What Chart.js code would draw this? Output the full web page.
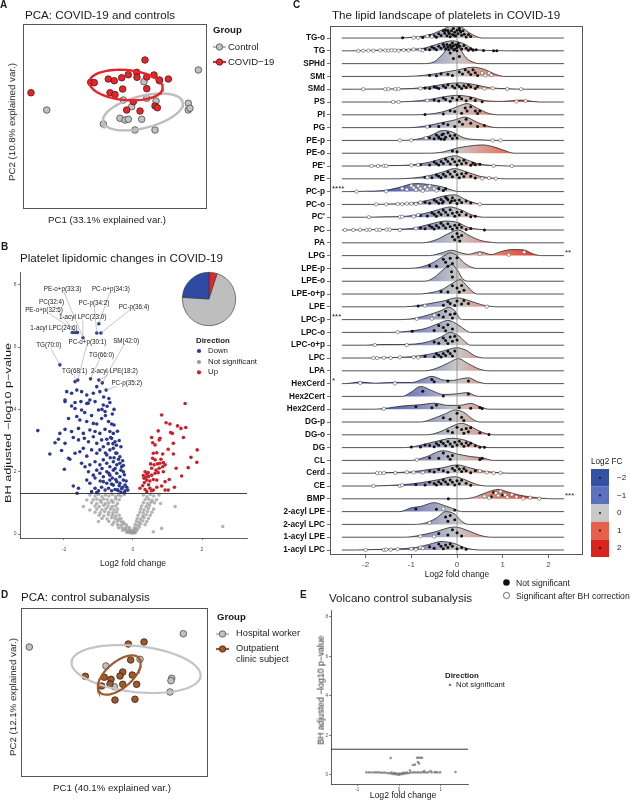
<!DOCTYPE html>
<html><head><meta charset="utf-8">
<script src="https://cdn.jsdelivr.net/npm/chart.js@4.4.1/dist/chart.umd.min.js"></script>
<style>
html,body{margin:0;padding:0;background:#fff}
body{width:631px;height:800px;position:relative;overflow:hidden;font-family:"Liberation Sans",Arial,Helvetica,sans-serif}
canvas{position:absolute}
.t{position:absolute;white-space:nowrap;line-height:1;color:#1a1a1a}
</style></head><body>
<script>
// ================= DATA =================
// Panel A: PCA COVID-19 vs controls (PC1, PC2 scores)
const pcaControlA = [[9.06,5.03],[-7.42,0.70],[3.15,3.76],[4.82,3.87],[0.91,1.78],[3.45,1.97],[4.46,1.68],[7.97,1.43],[7.97,0.70],[8.15,0.89],[0.54,-0.19],[1.09,-0.38],[1.45,-0.30],[2.9,-0.30],[-1.27,-0.81],[2.17,-1.46],[4.35,-1.46],[1.81,1.06]];
const pcaCovidA = [[-9.13,2.57],[3.26,6.11],[-2.64,3.70],[-2.25,3.66],[-0.73,4.05],[-0.08,3.87],[0.73,4.19],[1.45,4.52],[2.36,4.77],[3.45,4.27],[4.24,4.49],[4.82,3.95],[5.80,4.05],[-0.54,2.57],[0,2.36],[0.83,2.97],[2.39,4.24],[3.45,3.01],[1.99,1.60],[1.27,0.70],[2.72,0.59],[4.35,1.14],[4.60,0.95]];
// ellipses: [centre x, centre y, semi-axis a, semi-axis b, angle deg]
const ellipseControlA = [3.04,0.49,4.46,1.73,14];
const ellipseCovidA = [1.2,3.4,4.0,1.62,-5];
const groupsA = ['Control','COVID-19'];

// Panel B: volcano plot [log2FC, -log10 adj p]
const volcanoDown = [[-0.99,6.75],[-1.05,6.45],[-0.93,6.45],[-1.76,6.47],[-1.68,6.47],[-1.61,6.47],[-1.45,6.3],[-2.12,5.43],[-1.6,4.94],[-1.23,4.98],[-0.99,4.94],[-0.89,4.85],[-0.78,4.62],[-1.68,4.89],[-1.92,4.57],[-1.78,4.52],[-1.63,4.62],[-1.49,4.57],[-1.34,4.46],[-1.15,4.52],[-0.96,4.57],[-1.05,4.73],[-0.85,4.4],[-1.97,4.30],[-1.78,4.11],[-1.25,4.3],[-0.7,4.35],
[-1.97,4.25],[-1.68,4.22],[-1.51,4.25],[-1.34,4.19],[-1.10,4.25],[-0.86,4.14],[-0.67,4.22],[-1.68,4.03],[-1.49,3.98],[-1.0,3.98],[-0.81,3.93],[-1.87,3.71],[-1.63,3.77],[-1.54,3.66],[-1.34,3.61],[-1.15,3.55],[-1.05,3.53],[-0.91,3.71],[-0.71,3.61],[-0.62,3.53],[-2.76,3.32],[-2.12,3.23],[-1.97,3.36],[-1.78,3.29],[-1.58,3.39],[-1.44,3.23],[-1.25,3.34],[-1.10,3.29],[-0.96,3.23],[-0.81,3.36],[-0.67,3.29],[-0.57,3.23],
[-2.26,2.93],[-2.16,3.04],[-1.97,2.91],[-1.73,3.10],[-1.58,3.02],[-1.41,3.07],[-1.29,2.96],[-1.15,3.12],[-1.05,2.91],[-0.91,3.02],[-0.76,3.04],[-0.62,3.07],[-0.52,2.96],[-2.41,2.57],[-2.07,2.68],[-1.87,2.43],[-1.83,2.40],[-1.68,2.59],[-1.54,2.64],[-1.44,2.75],[-1.34,2.50],[-1.20,2.70],[-1.05,2.59],[-0.96,2.70],[-0.86,2.80],[-0.76,2.54],[-0.67,2.70],[-0.57,2.75],[-0.47,2.59],[-0.38,2.48],[-1.99,2.08],[-1.49,2.27],[-1.39,2.16],[-1.25,2.22],[-1.10,2.32],[-0.96,2.22],[-0.86,2.38],[-0.76,2.27],[-0.67,2.16],[-0.57,2.32],[-0.47,2.22],[-0.38,2.27],[-0.33,2.16],
[-1.29,2.0],[-1.15,1.89],[-1.05,2.05],[-0.96,1.95],[-0.86,1.84],[-0.76,2.0],[-0.67,1.89],[-0.57,2.05],[-0.47,1.95],[-0.38,1.84],[-0.28,2.0],[-0.86,1.68],[-0.76,1.63],[-0.67,1.73],[-0.57,1.57],[-0.47,1.68],[-0.38,1.63],[-0.28,1.73],[-0.23,1.57],[-1.73,1.54],[-1.58,1.47],[-1.34,1.73],[-1.25,1.63],[-1.10,1.47],[-1.0,1.39],[-0.91,1.50],[-0.81,1.41],[-0.71,1.47],[-0.62,1.39],[-0.52,1.43],[-0.43,1.39],[-0.33,1.46],[-0.23,1.39],[-0.15,1.41],[-1.62,1.31],[-1.20,1.36],[-1.05,1.33],
[-0.55,3.5],[-0.45,3.3],[-0.4,3.0],[-0.35,2.8],[-0.5,2.6],[-0.42,2.4],[-0.3,2.35],[-0.52,2.1],[-0.35,2.05],[-0.25,1.9],[-0.6,1.8],[-0.5,1.75],[-0.4,1.55],[-0.3,1.5],[-0.62,1.6],[-0.7,1.95],[-0.55,2.45],[-0.48,2.85],[-0.65,3.1],[-0.72,2.9],[-0.8,2.6],[-0.9,2.1],[-0.95,1.7],[-1.1,1.8],[-0.8,3.8],[-0.9,4.0],[-0.75,4.1],[-0.6,3.85],[-0.55,4.0],[-1.2,3.8],[-1.4,3.9],[-1.3,4.2],[-0.45,1.42],[-0.35,1.35],[-0.25,1.33],[-0.18,1.5],[-0.2,1.7],[-0.28,2.2],[-0.66,2.45],[-0.58,2.9]];
const volcanoUp = [[1.51,4.19],[0.83,3.82],[0.96,3.57],[1.07,3.53],[1.29,3.47],[1.39,3.39],[1.53,3.42],[1.09,3.26],[1.14,3.23],[0.73,3.31],[0.54,3.10],[0.78,3.07],[0.76,3.02],[1.46,3.10],[0.57,2.93],[0.64,2.86],[1.17,2.91],[1.86,2.70],[1.02,2.72],[0.59,2.59],[0.69,2.61],[0.86,2.57],[1.17,2.57],[1.68,2.46],[0.57,2.43],[0.64,2.38],[0.81,2.40],[1.85,2.30],[1.60,2.13],[0.51,2.25],[0.61,2.22],[0.71,2.25],[0.78,2.27],[0.88,2.29],[0.54,2.11],[0.67,2.05],[0.76,2.11],[0.86,2.16],[0.93,2.22],[1.25,2.11],[0.35,2.0],[0.40,1.93],[0.44,1.97],[0.54,1.89],[0.64,1.95],[0.73,1.97],[0.88,2.0],[1.41,1.86],[0.32,1.79],[0.40,1.73],[0.49,1.70],[0.59,1.75],[0.69,1.73],[0.93,1.68],[1.05,1.75],[0.20,1.47],[0.35,1.43],[0.49,1.47],[0.59,1.41],[0.69,1.50],[0.83,1.54],[0.93,1.41],[1.02,1.41],[1.20,1.50],[0.40,1.36],[0.54,1.39],[0.30,1.88],[0.37,1.82],[0.45,1.85],[0.33,1.65],[0.28,1.55],[0.45,1.58]];
const volcanoNS = [[-1.25,1.25],[-1.1,1.22],[-1.0,1.27],[-0.9,1.2],[-0.8,1.25],[-0.7,1.22],[-0.6,1.27],[-0.5,1.2],[-0.42,1.25],[-0.35,1.22],[-0.25,1.27],[0.3,1.25],[0.4,1.2],[0.5,1.27],[0.6,1.22],[0.75,1.25],
[-1.34,1.09],[-1.15,1.1],[-1.05,1.12],[-0.95,1.08],[-0.85,1.12],[-0.75,1.1],[-0.62,1.08],[-0.5,1.12],[-0.4,1.1],[0.35,1.1],[0.45,1.12],[0.55,1.08],[0.68,1.1],
[-1.2,1.0],[-1.05,0.98],[-0.92,1.02],[-0.8,0.98],[-0.7,1.0],[-0.58,1.02],[-0.45,0.98],[0.3,1.0],[0.42,0.98],[0.52,1.02],[0.62,1.0],[0.8,0.98],
[-1.44,0.88],[-1.1,0.9],[-0.98,0.88],[-0.85,0.92],[-0.72,0.9],[-0.6,0.88],[-0.5,0.9],[0.25,0.9],[0.38,0.88],[0.48,0.92],[1.22,0.88],
[-1.25,0.77],[-1.05,0.8],[-0.9,0.78],[-0.78,0.82],[-0.65,0.8],[-0.55,0.78],[-0.45,0.8],[0.22,0.8],[0.32,0.78],[0.45,0.82],[0.6,0.8],
[-1.1,0.7],[-0.95,0.68],[-0.82,0.72],[-0.7,0.7],[-0.58,0.68],[-0.48,0.7],[0.2,0.7],[0.3,0.68],[0.42,0.72],[0.55,0.7],
[-0.98,0.6],[-0.85,0.58],[-0.72,0.62],[-0.6,0.6],[-0.5,0.58],[-0.4,0.6],[0.15,0.6],[0.28,0.58],[0.38,0.62],[0.5,0.6],
[-0.9,0.5],[-0.75,0.48],[-0.62,0.52],[-0.52,0.5],[-0.42,0.48],[-0.35,0.5],[0.12,0.5],[0.22,0.48],[0.32,0.52],[0.45,0.5],
[-1.0,0.4],[-0.7,0.4],[-0.55,0.38],[-0.45,0.42],[-0.35,0.4],[-0.28,0.38],[0.1,0.4],[0.18,0.38],[0.28,0.42],[0.4,0.4],
[-0.6,0.3],[-0.45,0.3],[-0.35,0.28],[-0.28,0.32],[-0.2,0.3],[0.06,0.3],[0.14,0.28],[0.22,0.32],[0.35,0.3],
[-0.42,0.2],[-0.32,0.2],[-0.24,0.18],[-0.17,0.22],[-0.1,0.2],[0.04,0.2],[0.1,0.18],[0.18,0.22],[0.83,0.18],
[-0.3,0.12],[-0.22,0.12],[-0.15,0.1],[-0.1,0.13],[-0.05,0.11],[0,0.12],[0.05,0.1],[0.12,0.12],
[-0.18,0.05],[-0.12,0.05],[-0.07,0.04],[-0.03,0.05],[0,0.03],[0.03,0.05],[0.07,0.04],[0.59,0.07],[2.6,0.24]];
const bhThreshold = -Math.log10(0.05);
const labelledLipids = ['PE-o+p(33:3)','PC-o+p(34:3)','PC(32:4)','PC-p(34:2)','PC-p(36:4)','PE-o+p(32:5)','1-acyl LPC(23:0)','1-acyl LPC(24:6)','TG(70:0)','PC-o+p(30:1)','SM(42:0)','TG(66:0)','TG(68:1)','2-acyl LPE(18:2)','PC-p(35:2)'];
const labelledFC = [-1.45,-0.99,-1.68,-1.05,-0.93,-1.61,-1.45,-1.76,-2.12,-1.6,-0.89,-1.23,-1.68,-0.99,-0.78];
const labelledP  = [6.3,6.75,6.47,6.45,6.45,6.47,6.3,6.47,5.43,4.94,4.85,4.98,4.89,4.94,4.62];
// label anchor positions (layout, data units)
const labelAnchorX = [-2.04,-0.64,-2.36,-1.13,0.03,-2.58,-1.46,-2.29,-2.44,-1.32,-0.20,-0.91,-1.69,-0.54,-0.18];
const labelAnchorY = [7.87,7.87,7.45,7.42,7.30,7.19,6.96,6.60,6.07,6.17,6.20,5.75,5.23,5.23,4.86];
const directionLabels = ['Down','Not significant','Up'];
const pieLabels = ['Up','Not significant','Down'];
const pieCounts = [5,71,24];

// Panel C: ridgelines, profiles as [log2FC, density height in row units]
const lipidClasses = ['TG-o','TG','SPHd','SMt','SMd','PS','PI','PG','PE-p','PE-o',"PE'",'PE','PC-p','PC-o',"PC'",'PC','PA','LPG','LPE-p','LPE-o','LPE-o+p','LPE','LPC-p','LPC-o','LPC-o+p','LPC','LPA','HexCerd','Hex2Cert','Hex2Cerd','DG-p','DG-o','DG','CL','Cerd','CE','BMP','2-acyl LPE','2-acyl LPC','1-acyl LPE','1-acyl LPC'];
const ridgeProfiles = [
[[-1.3,0],[-0.9,0.08],[-0.6,0.25],[-0.35,0.6],[-0.1,0.96],[0.1,0.85],[0.25,0.45],[0.45,0.08],[0.55,0]],
[[-2.3,0],[-2.0,0.03],[-1.5,0.06],[-1.0,0.12],[-0.7,0.22],[-0.45,0.5],[-0.1,0.78],[0.15,0.55],[0.35,0.15],[0.55,0.05],[0.95,0.01],[1.1,0]],
[[-0.75,0],[-0.5,0.15],[-0.3,0.8],[-0.12,1.56],[0.05,1.2],[0.2,0.45],[0.4,0.05],[0.5,0]],
[[-1.1,0],[-0.7,0.1],[-0.4,0.25],[0,0.5],[0.35,0.72],[0.6,0.55],[0.85,0.15],[1.05,0]],
[[-2.2,0],[-1.5,0.02],[-1.0,0.05],[-0.6,0.2],[-0.3,0.38],[0.05,0.5],[0.4,0.35],[0.7,0.12],[1.1,0.04],[1.5,0]],
[[-1.5,0],[-1.0,0.05],[-0.6,0.2],[-0.3,0.4],[0,0.52],[0.3,0.4],[0.6,0.12],[1.0,0.05],[1.4,0.15],[1.8,0]],
[[-0.9,0],[-0.5,0.1],[-0.2,0.35],[0.05,0.7],[0.22,0.88],[0.45,0.5],[0.7,0.1],[0.9,0]],
[[-1.05,0],[-0.7,0.12],[-0.35,0.38],[-0.05,0.6],[0.17,0.83],[0.45,0.4],[0.75,0.05],[0.9,0]],
[[-1.3,0],[-0.9,0.08],[-0.6,0.35],[-0.3,0.78],[-0.1,0.65],[0.15,0.2],[0.5,0.05],[1.0,0]],
[[-0.65,0],[-0.3,0.1],[0,0.4],[0.25,0.55],[0.55,0.65],[0.8,0.5],[1.05,0.2],[1.25,0]],
[[-2.0,0],[-1.5,0.03],[-1.0,0.08],[-0.6,0.3],[-0.3,0.6],[-0.05,0.8],[0.2,0.5],[0.5,0.15],[0.9,0.03],[1.3,0]],
[[-1.4,0],[-1.0,0.05],[-0.6,0.25],[-0.3,0.55],[-0.05,0.8],[0.2,0.55],[0.5,0.2],[0.8,0.05],[1.1,0]],
[[-2.4,0],[-2.0,0.03],[-1.6,0.08],[-1.3,0.3],[-0.9,0.63],[-0.6,0.55],[-0.3,0.35],[-0.05,0.05],[0.1,0]],
[[-1.9,0],[-1.4,0.04],[-1.0,0.1],[-0.6,0.35],[-0.3,0.65],[-0.05,0.75],[0.2,0.35],[0.45,0.05],[0.55,0]],
[[-2.0,0],[-1.6,0.03],[-1.1,0.08],[-0.7,0.3],[-0.4,0.6],[-0.15,0.8],[0.1,0.55],[0.35,0.15],[0.6,0]],
[[-2.5,0],[-2.0,0.02],[-1.5,0.05],[-1.0,0.12],[-0.6,0.45],[-0.25,0.7],[0,0.6],[0.25,0.2],[0.5,0.05],[0.7,0]],
[[-0.75,0],[-0.45,0.25],[-0.2,0.7],[0.03,1.0],[0.25,0.6],[0.5,0.2],[0.8,0.02],[0.9,0]],
[[-0.6,0],[-0.35,0.2],[-0.12,0.42],[0.1,0.2],[0.25,0.1],[0.5,0.3],[0.75,0.08],[0.95,0.3],[1.2,0.47],[1.45,0.45],[1.65,0.15],[1.85,0]],
[[-1.1,0],[-0.8,0.1],[-0.5,0.5],[-0.3,0.95],[-0.15,1.22],[0,1.0],[0.15,0.45],[0.35,0.05],[0.45,0]],
[[-0.7,0],[-0.5,0.3],[-0.3,0.9],[-0.12,1.3],[0.02,0.8],[0.12,0.2],[0.25,0]],
[[-0.85,0],[-0.55,0.12],[-0.3,0.4],[-0.05,0.95],[0.07,1.12],[0.2,0.7],[0.35,0.15],[0.45,0]],
[[-1.15,0],[-0.85,0.1],[-0.6,0.25],[-0.3,0.45],[0,0.7],[0.25,0.5],[0.55,0.15],[0.9,0]],
[[-1.25,0],[-0.9,0.12],[-0.6,0.4],[-0.35,0.7],[-0.19,0.96],[-0.05,0.7],[0.05,0.15],[0.12,0]],
[[-1.45,0],[-1.1,0.08],[-0.7,0.3],[-0.4,0.7],[-0.2,0.94],[0,0.65],[0.2,0.15],[0.3,0]],
[[-2.0,0],[-1.7,0.05],[-1.3,0.05],[-0.9,0.1],[-0.6,0.3],[-0.35,0.65],[-0.15,1.0],[0.05,0.7],[0.2,0.2],[0.3,0]],
[[-2.0,0],[-1.5,0.03],[-1.0,0.1],[-0.6,0.3],[-0.3,0.55],[0,0.8],[0.2,0.6],[0.4,0.15],[0.6,0]],
[[-0.7,0],[-0.45,0.2],[-0.2,0.6],[0.03,0.95],[0.25,0.55],[0.5,0.12],[0.7,0]],
[[-2.45,0],[-2.12,0.12],[-1.8,0.03],[-1.36,0.1],[-1.0,0.08],[-0.75,0.35],[-0.55,0.57],[-0.3,0.28],[-0.1,0.25],[0.1,0.38],[0.25,0.45],[0.45,0.15],[0.65,0]],
[[-1.2,0],[-1.0,0.35],[-0.8,0.78],[-0.55,0.45],[-0.3,0.15],[0,0.2],[0.22,0.3],[0.4,0.05],[0.5,0]],
[[-1.8,0],[-1.5,0.1],[-1.2,0.25],[-0.8,0.35],[-0.5,0.47],[-0.2,0.3],[0.05,0.3],[0.3,0.45],[0.5,0.2],[0.7,0]],
[[-0.8,0],[-0.5,0.3],[-0.25,0.65],[-0.05,0.94],[0.15,0.75],[0.35,0.2],[0.5,0]],
[[-0.65,0],[-0.4,0.2],[-0.15,0.6],[0.1,0.9],[0.3,0.65],[0.55,0.2],[0.8,0]],
[[-1.15,0],[-0.85,0.15],[-0.5,0.45],[-0.1,0.73],[0.2,0.55],[0.5,0.1],[0.7,0]],
[[-1.0,0],[-0.7,0.25],[-0.3,0.76],[0,0.5],[0.3,0.3],[0.55,0.2],[0.8,0]],
[[-1.9,0],[-1.5,0.05],[-1.0,0.1],[-0.6,0.3],[-0.35,0.4],[0,0.65],[0.3,0.4],[0.6,0.15],[1.0,0.02],[1.1,0]],
[[-1.9,0],[-1.5,0.04],[-1.2,0.1],[-0.8,0.25],[-0.4,0.5],[-0.05,0.73],[0.2,0.45],[0.45,0.1],[0.65,0]],
[[0.15,0],[0.4,0.15],[0.65,0.5],[0.9,0.73],[1.1,0.55],[1.35,0.3],[1.6,0.15],[1.85,0.05],[2.1,0]],
[[-1.25,0],[-1.0,0.3],[-0.8,0.4],[-0.5,0.7],[-0.3,0.5],[-0.1,0.25],[0.05,0.03],[0.1,0]],
[[-0.95,0],[-0.7,0.1],[-0.45,0.5],[-0.25,1.0],[-0.05,0.8],[0.1,0.25],[0.25,0]],
[[-1.15,0],[-0.85,0.12],[-0.5,0.4],[-0.05,0.8],[0.25,0.5],[0.5,0.15],[0.75,0]],
[[-2.2,0],[-1.8,0.04],[-1.3,0.08],[-0.9,0.2],[-0.6,0.45],[-0.35,0.66],[-0.1,0.55],[0.2,0.15],[0.5,0]]];
// individual lipids (log2FC) per class: not significant / significant after BH
const ridgeNotSig = [
[-1.19,-0.75,-0.6,-0.5,-0.45,-0.4,-0.35,-0.3,-0.27,-0.22,-0.2,-0.17,-0.15,-0.12,-0.1,-0.08,-0.05,-0.03,0,0.02,0.05,0.08,0.1,0.13,0.16,0.2,0.25,0.3,-0.25,-0.18,-0.06,0.06],
[-0.7,-0.6,-0.55,-0.5,-0.45,-0.4,-0.35,-0.3,-0.28,-0.25,-0.22,-0.2,-0.18,-0.15,-0.12,-0.1,-0.08,-0.05,-0.03,0,0.03,0.06,0.1,0.15,0.2,0.25,0.3,0.35,0.42,0.58,0.8,0.87,-0.13,-0.07,0.01],
[-0.15,-0.08,0,0.05],
[-0.6,-0.45,-0.35,-0.2,-0.1,0.05,0.12,0.18,0.25,0.3,0.35,0.4,0.45],
[-0.7,-0.6,-0.5,-0.45,-0.4,-0.3,-0.25,-0.2,-0.1,-0.05,0,0.05,0.1,0.15,0.2,0.25,0.3,0.4,0.45],
[-0.5,-0.4,-0.3,-0.25,-0.15,-0.1,0,0.05,0.1,0.2,0.3,0.4,0.55],
[-0.7,-0.3,-0.15,-0.05,0.1,0.18,0.22,0.3,0.4,0.45,0.5],
[-0.6,-0.4,-0.3,-0.2,-0.05,0.05,0.12,0.2,0.3,0.45,0.6],
[-0.6,-0.5,-0.45,-0.4,-0.35,-0.3,-0.25,-0.2,-0.15,-0.1,-0.05,0,-0.28,-0.33,-0.4],
[-0.1,0.0],
[-0.8,-0.6,-0.5,-0.45,-0.4,-0.35,-0.3,-0.25,-0.2,-0.15,-0.1,-0.05,0,0.05,0.1,0.15,0.2,0.3,0.35,0.4,0.5],
[-0.7,-0.55,-0.45,-0.4,-0.35,-0.3,-0.25,-0.2,-0.15,-0.1,-0.05,0,0.05,0.1,0.15,0.2,0.3,0.4],
[-0.4,-0.3,-0.25],
[-0.7,-0.6,-0.5,-0.45,-0.4,-0.35,-0.3,-0.25,-0.2,-0.15,-0.1,-0.05,0,0.05,0.1,0.2,0.3,-0.32,-0.22,-0.12],
[-0.8,-0.65,-0.55,-0.5,-0.45,-0.4,-0.35,-0.3,-0.25,-0.2,-0.15,-0.1,-0.05,0,0.05,0.1,0.2,0.3,0.4],
[-0.8,-0.7,-0.6,-0.55,-0.5,-0.45,-0.4,-0.35,-0.3,-0.25,-0.2,-0.15,-0.1,-0.05,0,0.05,0.1,0.2,0.3,0.6],
[-0.1,-0.05,0,0.03,0.06,0.1],
[],
[-0.6,-0.45,-0.3,-0.25,-0.2,-0.15,-0.1,0.0],
[-0.12,-0.1],
[-0.35,-0.2,-0.1,0,0.05,0.1,0.15],
[-0.85,-0.3,-0.2,-0.15,-0.05,0,0.1,0.15,0.25],
[-0.4,-0.3,-0.25,-0.15,-0.1,-0.05],
[-0.98,-0.5,-0.4,-0.3,-0.25,-0.2,-0.1],
[-0.5,-0.4,-0.3,-0.25,-0.2,-0.15,-0.1,-0.05,0],
[-0.7,-0.5,-0.45,-0.4,-0.35,-0.3,-0.25,-0.2,-0.15,-0.1,-0.05],
[],
[-0.55,-0.5,-0.2,0.25],
[-0.75,-0.3,0.25],
[-0.9,-0.55,-0.45,0.05,0.3,0.5,0.55],
[-0.3,-0.15,0,0.1,0.15],
[-0.2,-0.1,0,0.1,0.15,0.2,0.25,0.3,0.5,0.7],
[-1.0,-0.8,-0.7,-0.6,-0.5,-0.45,-0.4,-0.35,-0.3,-0.25,-0.2,-0.15,-0.1,-0.05,0,0.05,0.1,0.15,0.2,0.25,0.3,0.4,0.5,0.6],
[-0.6,-0.4,-0.3,-0.2,-0.15,-0.1,0.5,0.55],
[-0.6,-0.5,-0.4,-0.3,-0.2,-0.1,-0.05,0,0.05,0.1,0.15,0.2,0.3,0.4],
[-0.9,-0.7,-0.6,-0.5,-0.45,-0.4,-0.35,-0.3,-0.25,-0.2,-0.15,-0.1,-0.05,0,0.05,0.1,0.2,0.3],
[-0.19,0.75,0.8,1.0],
[-0.9,-0.45,-0.05],
[-0.25,-0.2,-0.15,-0.05],
[-0.4,-0.2,-0.1,0,0.1],
[-0.6,-0.5,-0.4,-0.35,-0.3,-0.25,-0.2,-0.15,-0.1,0,0.1,0.2]];
const ridgeSig = [
[-0.95,-0.85,-0.65,-0.55],
[-2.16,-2.05,-1.94,-1.83,-1.68,-1.57,-1.5,-1.43,-1.36,-1.28,-1.17,-1.06,-0.95,-0.81,-0.75],
[],[0.55,0.62,0.7,0.75],
[-2.05,-1.57,-1.5,-1.35,-1.28,-0.8,0.6,0.78,1.1,1.4],
[-1.4,-1.28,-0.65,1.3,1.5],[],[-0.65],
[-1.25,-1.0,-0.68,0.78,0.95],[],
[-1.87,-1.73,-1.6,-1.55,-1.0,-0.85,0.8,1.2],
[-0.65,0.55,0.7,0.85],
[-2.2,-1.55,-1.2,-1.1,-1.0,-0.95,-0.9,-0.85,-0.8,-0.75,-0.7,-0.65,-0.6,-0.5,-0.45],
[-1.77,-1.55,-1.3,-1.2,-1.1,-1.0,-0.9,-0.8,0.5],
[-1.93,-1.25,-1.2,-0.95,-0.85],
[-2.45,-2.27,-2.12,-1.98,-1.91,-1.76,-1.69,-1.54,-1.47,-1.25,-0.9],
[],[0.5,1.13,1.47],[],[],[],[-0.7,0.65],
[-0.88,-0.55,-0.5],[-1.3],[-1.8,-1.1],
[-1.83,-1.75,-1.6,-1.45,-1.25,-0.95,-0.85],
[],[-2.12,-1.36],[],[-1.6],[],[],[],[-0.88],
[-1.75,-1.68,-1.6,-1.35,-1.1,-0.95,-0.75,0.5,0.65,0.8,0.95],
[-1.83,-1.25,-1.2],
[0.6,0.7,0.85,0.9,0.95,1.05,1.1,1.2,1.3,1.45,1.6,1.8],
[-0.3],[-0.6],[-0.8,-0.5],
[-2.0,-1.6,-1.55,-1.45,-1.3,-1.0,-0.9,-0.8,-0.75]];
const ridgeStarClasses = ['PC-p','LPC-p','HexCerd','LPG','BMP'];
const ridgeStarText = ['****','***','*','**','***'];
const ridgeTicks = [-2,-1,0,1,2];
const fcLegendValues = [-2,-1,0,1,2];

// Panel D: PCA control subanalysis
const pcaHospitalD = [[-9.11,5.38],[7.36,6.96],[2.73,3.93],[-0.91,3.14],[-0.02,0.69],[6.12,1.68],[6.04,1.40],[5.94,0.06]];
const pcaOutpatientD = [[1.48,5.74],[3.16,5.98],[1.73,3.85],[-3.12,1.92],[-1.09,1.80],[-0.37,1.56],[0.88,2.43],[0.59,1.95],[1.90,2.07],[-1.37,0.77],[-0.48,1.01],[0.88,0.97],[2.37,0.97],[0.05,-0.89],[2.19,-0.80]];
const ellipseHospitalD = [2.30,2.78,6.95,2.72,-7.3];
const ellipseOutpatientD = [0.51,2.07,2.92,1.46,45.6];

// Panel E: control volcano (all not significant)
const volcanoControlNS = [[-0.78,0.13],[-0.72,0.13],[-0.66,0.12],[-0.6,0.13],[-0.55,0.12],[-0.5,0.13],[-0.45,0.12],[-0.4,0.11],[-0.35,0.12],[-0.3,0.1],[-0.25,0.09],[-0.2,0.07],[-0.15,0.05],[-0.1,0.04],[-0.05,0.02],[0,0.01],[0.05,0.03],[0.1,0.05],[0.15,0.07],[0.2,0.09],[0.25,0.1],[0.3,0.12],[0.35,0.13],[0.4,0.12],[0.45,0.13],[0.5,0.12],[0.55,0.13],[0.6,0.13],[0.65,0.12],[0.7,0.13],[0.78,0.13],[0.85,0.13],[0.92,0.12],[0.98,0.13],[1.35,0.15],[-0.12,0.1],[-0.08,0.08],[0.08,0.1],[0.12,0.11],[-0.18,0.12],[0.18,0.12],[-0.02,0.06],[0.02,0.07],[-0.2,0.86],[0.43,0.87],[0.47,0.87],[0.51,0.87],[0.55,0.87],[0.38,0.52],[0.33,0.5],[0.45,0.65],[0.48,0.58],[0.26,0.22],[0.6,0.2],[0.75,0.2],[0.88,0.15]];

// ================= HELPERS =================
Chart.defaults.font.family = '"Liberation Sans", Arial, sans-serif';
Chart.defaults.animation = false;
Chart.defaults.responsive = false;
Chart.defaults.maintainAspectRatio = false;
Chart.defaults.devicePixelRatio = 1;
Chart.defaults.plugins.legend.display = false;
Chart.defaults.plugins.tooltip.enabled = false;
Chart.defaults.events = [];

function cv(l,t,w,h){const c=document.createElement('canvas');c.width=w;c.height=h;c.style.left=l+'px';c.style.top=t+'px';c.style.width=w+'px';c.style.height=h+'px';document.body.appendChild(c);return c;}
function txt(s,x,y,size,o={}){
  const d=document.createElement('div');d.className='t';d.textContent=s;
  d.style.fontSize=size+'px';if(o.bold)d.style.fontWeight='bold';if(o.color)d.style.color=o.color;
  d.style.left=x+'px';d.style.top=y+'px';document.body.appendChild(d);
  if(o.rot){let sc=1;if(o.len)sc=o.len/d.offsetWidth;d.style.transform=`translate(-50%,-50%) rotate(${o.rot}deg) scaleX(${sc})`;}
  else{const ax=o.anchor==='middle'?'-50%':o.anchor==='end'?'-100%':'0';d.style.transform=`translate(${ax},-50%)`;}
  return d;
}
const toXY = a => a.map(([x,y])=>({x,y}));
function ellipsePts(e){const [cx,cy,a,b,deg]=e;const th=deg*Math.PI/180;const p=[];for(let i=0;i<=90;i++){const t=i/90*2*Math.PI;p.push({x:cx+a*Math.cos(t)*Math.cos(th)-b*Math.sin(t)*Math.sin(th),y:cy+a*Math.cos(t)*Math.sin(th)+b*Math.sin(t)*Math.cos(th)});}return p;}
const boxPlugin={id:'box',afterDraw(c){const a=c.chartArea,x=c.ctx;x.save();x.strokeStyle='#555';x.lineWidth=1;x.strokeRect(Math.round(a.left)+0.5,Math.round(a.top)+0.5,Math.round(a.right-a.left)-1,Math.round(a.bottom-a.top)-1);x.restore();}};
const threshPlugin={id:'thresh',afterDatasetsDraw(c){const y=c.scales.y.getPixelForValue(bhThreshold),a=c.chartArea,x=c.ctx;x.save();x.strokeStyle='#222';x.lineWidth=0.9;x.beginPath();x.moveTo(a.left,y);x.lineTo(a.right,y);x.stroke();x.restore();}};

function pcaChart(canvas,pad,ellA,colA,ellB,colB,ptsA,fillA,edgeA,ptsB,fillB,edgeB,lw){
  return new Chart(canvas,{type:'scatter',data:{datasets:[
    {data:ellipsePts(ellB),showLine:true,pointRadius:0,borderColor:colB,borderWidth:lw,tension:0},
    {data:ellipsePts(ellA),showLine:true,pointRadius:0,borderColor:colA,borderWidth:lw,tension:0},
    {data:toXY(ptsB),pointRadius:3.3,backgroundColor:fillB,borderColor:edgeB,borderWidth:0.8},
    {data:toXY(ptsA),pointRadius:3.3,backgroundColor:fillA,borderColor:edgeA,borderWidth:0.8}]},
    options:{layout:{padding:pad},scales:{x:{display:false,min:-10,max:10},y:{display:false,min:-10,max:10}}},plugins:[boxPlugin]});
}

// ================= PANEL A =================
pcaChart(cv(0,0,215,215),{left:23,top:24,right:8,bottom:6},ellipseControlA,'#bdbdbd',ellipseCovidA,'#e3262b',pcaControlA,'#c2c2c2','#4a4a4a',pcaCovidA,'#e3262b','#5a1414',2.4);
txt('A',0,5,10,{bold:true});
txt('PCA: COVID-19 and controls',25,15,11.6);
txt('PC1 (33.1% explained var.)',107,220,9.7,{anchor:'middle'});
txt('PC2 (10.8% explained var.)',12,122,9.7,{rot:-90});
txt('Group',213,30,9.6,{bold:true});
txt(groupsA[0],228,47,9.5);
txt('COVID−19',228,62,9.5);

// ================= PANEL B =================
const tickStyle = (sz)=>({font:{size:sz},color:'#4d4d4d',maxRotation:0,autoSkip:false});
const axGrid = {drawOnChartArea:false,drawTicks:true,tickLength:2,color:'#333',lineWidth:0.6};
const axBorder = {display:true,color:'#333',width:0.8};
const bLeft=0,bTop=262;
const chartB = new Chart(cv(bLeft,bTop,260,300),{type:'scatter',data:{datasets:[
  {data:toXY(volcanoUp),pointRadius:1.8,backgroundColor:'#c8232b',borderWidth:0},
  {data:toXY(volcanoDown),pointRadius:1.8,backgroundColor:'#2c3a8e',borderWidth:0},
  {data:toXY(volcanoNS),pointRadius:1.8,backgroundColor:'rgba(150,150,150,0.7)',borderWidth:0}]},
  options:{layout:{padding:{top:10,right:13,left:0,bottom:0}},
   scales:{x:{type:'linear',min:-3.275,max:3.304,afterBuildTicks:s=>{s.ticks=[-2,0,2].map(v=>({value:v}));},afterFit:s=>{s.height=24;},ticks:Object.assign(tickStyle(5),{padding:7}),grid:axGrid,border:axBorder},
           y:{type:'linear',min:-0.128,max:8.41,afterBuildTicks:s=>{s.ticks=[0,2,4,6,8].map(v=>({value:v}));},afterFit:s=>{s.width=20;},ticks:Object.assign(tickStyle(5),{padding:1.5}),grid:axGrid,border:axBorder}}},
  plugins:[threshPlugin,{id:'leaders',afterDatasetsDraw(c){const x=c.ctx;x.save();x.font='6.3px "Liberation Sans", Arial';x.strokeStyle='#8c8c8c';x.lineWidth=0.5;
    labelledLipids.forEach((s,i)=>{const px=c.scales.x.getPixelForValue(labelledFC[i]),py=c.scales.y.getPixelForValue(labelledP[i]);
      const lx=c.scales.x.getPixelForValue(labelAnchorX[i]),ly=c.scales.y.getPixelForValue(labelAnchorY[i]);
      const hw=x.measureText(s).width/2+1,hh=3.6;const dx=px-lx,dy=py-ly;
      const t=Math.min(Math.abs(dx)>1e-6?hw/Math.abs(dx):9,Math.abs(dy)>1e-6?hh/Math.abs(dy):9);
      if(t>=1)return;x.beginPath();x.moveTo(lx+dx*t,ly+dy*t);x.lineTo(px,py);x.stroke();});x.restore();}}]});
labelledLipids.forEach((s,i)=>{txt(s,bLeft+chartB.scales.x.getPixelForValue(labelAnchorX[i]),bTop+chartB.scales.y.getPixelForValue(labelAnchorY[i]),6.3,{anchor:'middle',color:'#222'});});
new Chart(cv(181,271,56,56),{type:'pie',data:{labels:pieLabels,datasets:[{data:pieCounts,backgroundColor:['#e3262b','#bebebe','#2f4aa3'],borderColor:'#333',borderWidth:0.6}]},options:{layout:{padding:1}}});
txt('B',1,247,10,{bold:true});
txt('Platelet lipidomic changes in COVID-19',20,258,11.6);
txt('Log2 fold change',133,563,8.6,{anchor:'middle'});
txt('BH adjusted −log10 p−value',7.5,423,9,{rot:-90,len:160});
txt('Direction',196,341,7.8,{bold:true});
txt(directionLabels[0],208,351,7.8);
txt(directionLabels[1],208,362,7.8);
txt(directionLabels[2],208,372.3,7.8);

// ================= PANEL C =================
const N = lipidClasses.length;
function hAt(p,x){if(x<=p[0][0]||x>=p[p.length-1][0])return 0;for(let i=1;i<p.length;i++){if(x<=p[i][0]){const f=(x-p[i-1][0])/(p[i][0]-p[i-1][0]);return p[i-1][1]+f*(p[i][1]-p[i-1][1]);}}return 0;}
function ridgeFill(chart){const {ctx,chartArea,scales}=chart;if(!chartArea)return '#c8c8c8';const x0=scales.x.getPixelForValue(-2),x1=scales.x.getPixelForValue(2);const g=ctx.createLinearGradient(x0,0,x1,0);
  g.addColorStop(0,'rgb(48,70,160)');g.addColorStop(0.25,'rgb(118,126,188)');g.addColorStop(0.5,'rgb(200,200,200)');g.addColorStop(0.75,'rgb(228,118,98)');g.addColorStop(1,'rgb(216,36,30)');return g;}
const cSets=[];
for(let t=N-1;t>=0;t--){const base=N-1-t;
  const pts=[{x:-2.52,y:base}].concat(ridgeProfiles[t].map(([x,h])=>({x,y:base+h}))).concat([{x:2.34,y:base}]);
  cSets.push({type:'line',data:pts,borderColor:'#262626',borderWidth:0.8,pointRadius:0,cubicInterpolationMode:'monotone',fill:{value:base},backgroundColor:c=>ridgeFill(c.chart)});}
const jit=k=>0.08+0.8*(((k+1)*0.6180339887)%1);
const nsPts=[],sgPts=[];
for(let t=0;t<N;t++){const base=N-1-t;
  ridgeNotSig[t].forEach((x,k)=>nsPts.push({x,y:base+jit(k)*hAt(ridgeProfiles[t],x)}));
  ridgeSig[t].forEach((x,k)=>sgPts.push({x,y:base+jit(k+3)*hAt(ridgeProfiles[t],x)}));}
cSets.push({type:'scatter',order:-1,data:sgPts,pointRadius:1.7,backgroundColor:'#ffffff',borderColor:'#5a5a5a',borderWidth:0.6});
cSets.push({type:'scatter',order:-1,data:nsPts,pointRadius:1.5,backgroundColor:'#111',borderWidth:0});
const cGrid={drawOnChartArea:false,drawTicks:true,tickLength:3,color:'#333',lineWidth:0.7};
const cLeft=265,cTop=0;
const chartC=new Chart(cv(cLeft,cTop,366,600),{type:'line',data:{datasets:cSets},
  options:{layout:{padding:{top:26,right:48,left:0,bottom:0}},
   scales:{x:{type:'linear',min:-2.78,max:2.757,afterBuildTicks:s=>{s.ticks=ridgeTicks.map(v=>({value:v}));},afterFit:s=>{s.height=45;},ticks:{font:{size:8},color:'#4d4d4d',padding:2,maxRotation:0,autoSkip:false},grid:cGrid,border:{display:false}},
           y:{type:'linear',min:-0.39,max:40.94,afterBuildTicks:s=>{s.ticks=lipidClasses.map((_,i)=>({value:i}));},afterFit:s=>{s.width=65;},ticks:{font:{size:8.2,weight:'bold'},color:'#111',padding:2,autoSkip:false,callback:v=>lipidClasses[N-1-v]},grid:cGrid,border:{display:false}}}},
  plugins:[boxPlugin,{id:'zero',afterDatasetDraw(c,args){if(args.index!==0)return;const x=c.scales.x.getPixelForValue(0),a=c.chartArea,g=c.ctx;g.save();g.strokeStyle='rgba(120,120,120,0.9)';g.lineWidth=0.8;g.beginPath();g.moveTo(x,a.top);g.lineTo(x,a.bottom);g.stroke();g.restore();}}]});
txt('C',293,5,10,{bold:true});
txt('The lipid landscape of platelets in COVID-19',332,15,11.6);
txt('Log2 fold change',457,574,8.4,{anchor:'middle'});
// significance stars
ridgeStarClasses.forEach((cl,i)=>{const t=lipidClasses.indexOf(cl);const yv=cTop+chartC.scales.y.getPixelForValue(N-1-t);
  const right=['LPG','BMP'].includes(cl);txt(ridgeStarText[i],right?cLeft+chartC.scales.x.getPixelForValue(2.34)+1:cLeft+chartC.chartArea.left+2,yv-3,8,{color:'#222'});});
txt('Log2 FC',591,462,8.2);
fcLegendValues.forEach((v,i)=>txt(v<0?'−'+Math.abs(v):String(v),617,478+i*17.6,8));
txt('Not significant',516,582.5,8.6);
txt('Significant after BH correction',516,595.5,8.6);

// ================= PANEL D =================
pcaChart(cv(0,600,215,185),{left:21,top:8,right:7,bottom:8},ellipseHospitalD,'#c4c4c4',ellipseOutpatientD,'#9e5a2c',pcaHospitalD,'#c2c2c2','#4a4a4a',pcaOutpatientD,'#9e5a2c','#3d2010',2.2);
txt('D',1,595,10,{bold:true});
txt('PCA: control subanalysis',21,597,11.6);
txt('PC1 (40.1% explained var.)',112,788,9.7,{anchor:'middle'});
txt('PC2 (12.1% explained var.)',12.5,697,9.7,{rot:-90});
txt('Group',217,617,9.6,{bold:true});
txt('Hospital worker',236,634,9.3);
txt('Outpatient',236,648.5,9.3);
txt('clinic subject',236,660,9.3);

// ================= PANEL E =================
new Chart(cv(300,595,180,205),{type:'scatter',data:{datasets:[{data:toXY(volcanoControlNS),pointRadius:1.3,backgroundColor:'rgba(110,110,110,0.75)',borderWidth:0}]},
  options:{layout:{padding:{top:15,right:12,left:0,bottom:0}},
   scales:{x:{type:'linear',min:-1.63,max:1.65,afterBuildTicks:s=>{s.ticks=[-1,0,1].map(v=>({value:v}));},afterFit:s=>{s.height=16;},ticks:Object.assign(tickStyle(4.5),{padding:1}),grid:axGrid,border:axBorder},
           y:{type:'linear',min:-0.46,max:8.35,afterBuildTicks:s=>{s.ticks=[0,2,4,6,8].map(v=>({value:v}));},afterFit:s=>{s.width=31;},ticks:Object.assign(tickStyle(4.5),{padding:1}),grid:axGrid,border:axBorder}}},
  plugins:[threshPlugin]});
txt('E',300,595,10,{bold:true});
txt('Volcano control subanalysis',329,598,11.6);
txt('Log2 fold change',403,795,8.7,{anchor:'middle'});
txt('BH adjusted −log10 p−value',321,690,8.7,{rot:-90});
txt('Direction',445,676,7.8,{bold:true});
txt('Not significant',456,685,7.8);

// ================= LEGEND KEYS (svg) =================
const fcCols=['#3451a5','#5a70c0','#c8c8c8','#e8604c','#d8261f'];
let keys='';
keys+='<line x1="213" y1="47" x2="226" y2="47" stroke="#bdbdbd" stroke-width="2.2"/><circle cx="219.5" cy="47" r="3.2" fill="#c2c2c2" stroke="#4a4a4a" stroke-width="0.8"/>';
keys+='<line x1="213" y1="62" x2="226" y2="62" stroke="#e3262b" stroke-width="2.2"/><circle cx="219.5" cy="62" r="3.2" fill="#e3262b" stroke="#5a1414" stroke-width="0.8"/>';
keys+='<circle cx="199" cy="351" r="2.1" fill="#2c3a8e"/><circle cx="199" cy="362" r="2.1" fill="#9a9a9a"/><circle cx="199" cy="372.3" r="2.1" fill="#c8232b"/>';
fcCols.forEach((c,i)=>{keys+=`<rect x="591" y="${469+i*17.6}" width="18" height="17.6" fill="${c}"/><circle cx="600" cy="${477.8+i*17.6}" r="1.1" fill="#1a1a1a"/>`;});
keys+='<circle cx="506.5" cy="582.5" r="3.3" fill="#111"/><circle cx="506.5" cy="595.5" r="3.1" fill="#fff" stroke="#444" stroke-width="0.8"/>';
keys+='<line x1="216" y1="634" x2="229" y2="634" stroke="#c4c4c4" stroke-width="2.2"/><circle cx="222.5" cy="634" r="3.2" fill="#c2c2c2" stroke="#4a4a4a" stroke-width="0.8"/>';
keys+='<line x1="216" y1="649" x2="229" y2="649" stroke="#9e5a2c" stroke-width="2.2"/><circle cx="222.5" cy="649" r="3.2" fill="#9e5a2c" stroke="#3d2010" stroke-width="0.8"/>';
keys+='<circle cx="450" cy="685" r="1.3" fill="#777"/>';
const sv=document.createElementNS('http://www.w3.org/2000/svg','svg');sv.setAttribute('width','631');sv.setAttribute('height','800');sv.style.cssText='position:absolute;left:0;top:0';sv.innerHTML=keys;document.body.appendChild(sv);
</script>
</body></html>
